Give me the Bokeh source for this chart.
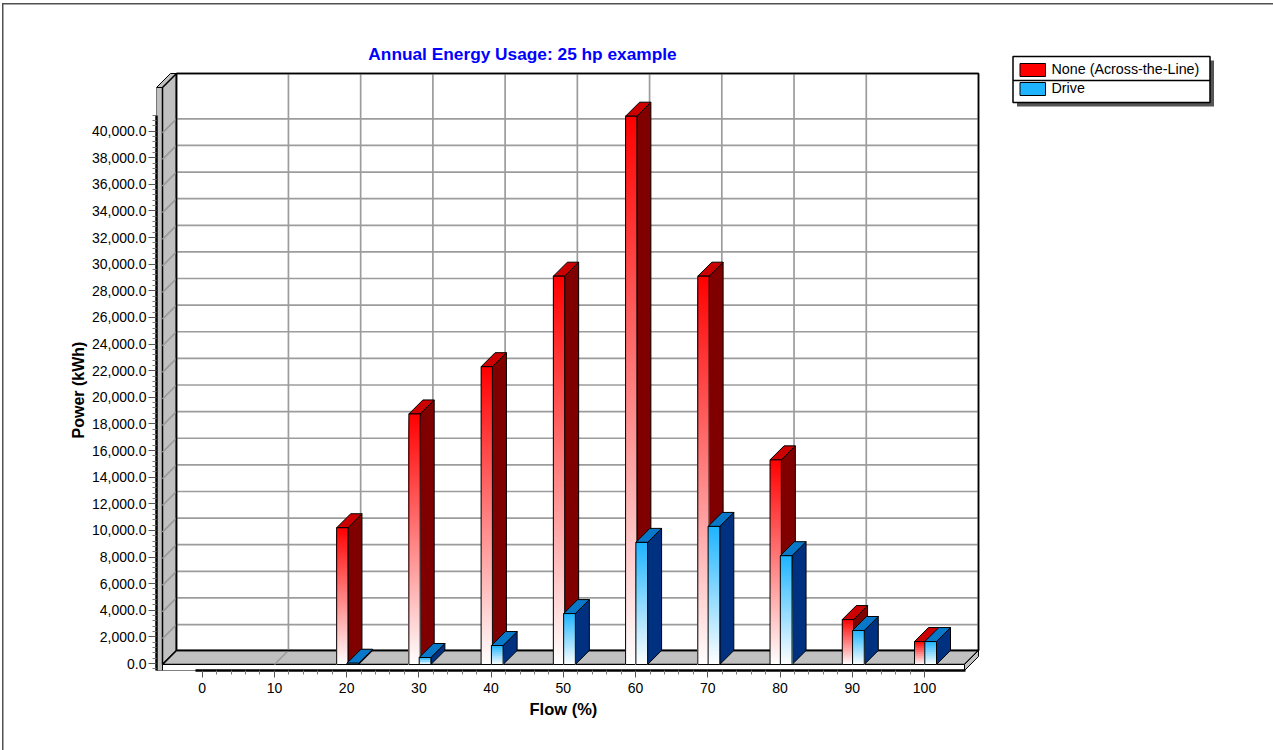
from bokeh.plotting import figure
from bokeh.embed import file_html
from bokeh.resources import INLINE
from bokeh.models import Label, FixedTicker, NumeralTickFormatter, Range1d, Title

flow = [0, 10, 20, 30, 40, 50, 60, 70, 80, 90, 100]
none_atl = [0, 0, 10200, 18750, 22300, 29100, 41120, 29100, 15300, 3300, 1650]
drive = [0, 0, 20, 450, 1350, 3750, 9100, 10300, 8100, 2480, 1650]
y_ticks = list(range(0, 40001, 2000))
x_ticks = list(range(0, 101, 10))
grid_flow = list(range(10, 91, 10))
series_name = "None (Across-the-Line)"
series_name2 = "Drive"
title_text = "Annual Energy Usage: 25 hp example"
x_title = "Flow (%)"
y_title = "Power (kWh)"

FONT = "Liberation Sans"
W, H = 1273, 750
L, T, B = 156, 0, 670   # frame edges in picture px
R = W
SX = 7.223; X0 = 201.7
SY = 0.01331; Y0 = 663.0
def px(x): return (x - X0) / SX
def py(y): return (Y0 - y) / SY
DX = 14 / SX; DY = 14 / SY
GO = 1.7 / SY   # grid sits slightly below the tick marks

p = figure(width=W, height=H, output_backend="svg", toolbar_location=None,
           x_range=Range1d(px(L), px(R)), y_range=Range1d(py(B), py(T)),
           min_border_left=L, min_border_right=0, min_border_top=0,
           min_border_bottom=H - B, outline_line_color=None,
           border_fill_alpha=0, background_fill_alpha=0)
p.grid.visible = False
# outer page rule (top and left)
p.styles = {
    "background-image": "linear-gradient(#505050,#505050),linear-gradient(#505050,#505050)",
    "background-size": "1.5px 100%,100% 1.5px",
    "background-position": "2px 3px,2px 3px",
    "background-repeat": "no-repeat",
}

GRAY = "#c0c0c0"; GL = "#9c9c9c"; K = "#000000"
floor_f = py(664); floor_t = py(670)
xl, xr = px(162), px(964)
top = py(87)

def poly(xs, ys, fill, line=K, w=1.0):
    p.patch(xs, ys, fill_color=fill, line_color=line, line_width=w)

# thin left strip + cap
poly([px(156), px(162), px(162), px(156)], [floor_t, floor_t, top, top], GRAY)
poly([px(156), px(162), px(176), px(170)], [top, top, top + DY, top + DY], GRAY)
# left wall
poly([xl, xl + DX, xl + DX, xl], [floor_f, floor_f + DY, top + DY, top], GRAY, w=1.5)
# back wall
poly([xl + DX, xr + DX, xr + DX, xl + DX], [floor_f + DY, floor_f + DY, top + DY, top + DY], "#ffffff", w=1.5)
# floor
poly([xl, xr, xr + DX, xl + DX], [floor_f, floor_f, floor_f + DY, floor_f + DY], GRAY, w=1.5)
poly([xl, xr, xr, xl], [floor_t, floor_t, floor_f, floor_f], "#ffffff")
poly([xr, xr + DX, xr + DX, xr], [floor_t, floor_t + DY, floor_f + DY, floor_f], GRAY)

# grid
for v in y_ticks[1:]:
    g = v - GO
    p.line([xl + DX, xr + DX], [g + DY, g + DY], line_color=GL, line_width=1.7)
    p.line([xl, xl + DX], [g, g + DY], line_color=GL, line_width=1.7)
for f in grid_flow:
    p.line([f + DX, f + DX], [floor_f + DY, top + DY], line_color=GL, line_width=1.7)
    p.line([f, f + DX], [floor_f, floor_f + DY], line_color=GL, line_width=1.7)
p.line([xl + DX, xl + DX], [floor_f + DY, top + DY], line_color=K, line_width=1.5)
p.line([xl + DX, xr + DX], [floor_f + DY, floor_f + DY], line_color=K, line_width=1.5)
p.line([xr + DX, xr + DX], [floor_f + DY, top + DY], line_color=K, line_width=1.5)
p.line([xl + DX, xr + DX], [top + DY, top + DY], line_color=K, line_width=1.5)

def mix(c, t):
    return "#%02x%02x%02x" % tuple(round(255 + (a - 255) * t) for a in c)

def bar(f, v, a, b, base, side, topc):
    x0, x1 = f + a / SX, f + b / SX
    poly([x1, x1 + DX, x1 + DX, x1], [floor_f, floor_f + DY, v + DY, v], side)
    poly([x0, x1, x1 + DX, x0 + DX], [v, v, v + DY, v + DY], topc)
    n = max(1, int((v - floor_f) * SY / 2))
    # painted tallest first, each overlapping the next, so no seams show
    tops = [floor_f + (v - floor_f) * i / n for i in range(n, 0, -1)]
    cols = [mix(base, (i - 0.5) / n) for i in range(n, 0, -1)]
    p.quad(left=x0, right=x1, bottom=floor_f, top=tops, line_color=None, fill_color=cols)
    p.quad(left=x0, right=x1, bottom=floor_f, top=v, fill_color=None, line_color=K, line_width=1)

for f, a, d in zip(flow, none_atl, drive):
    if a > 0:
        bar(f, a, -10.0, 1.3, (255, 0, 0), "#800000", "#cc0000")
    if d > 0:
        bar(f, d, 0.3, 12.0, (30, 180, 255), "#003080", "#0a78c8")

# axes
ax = p.xaxis[0]
ax.ticker = FixedTicker(ticks=x_ticks, minor_ticks=[i for i in range(0, 101, 2) if i % 10])
ax.bounds = (px(195), px(965))
ay = p.yaxis[0]
ay.ticker = FixedTicker(ticks=y_ticks, minor_ticks=[i for i in range(-400, 41201, 400) if i % 2000])
ay.bounds = (py(B), py(115))
ay.formatter = NumeralTickFormatter(format="0,0.0")
for a in (ax, ay):
    a.axis_line_width = 2.5
    a.major_tick_line_color = "#555555"
    a.minor_tick_line_color = "#777777"
    a.major_tick_in = 0; a.minor_tick_in = 0
    a.minor_tick_out = 4
    a.major_label_text_font = FONT
    a.major_label_text_font_size = "14px"
    a.major_label_text_color = "#000000"
ax.major_tick_out = 7
ay.major_tick_out = 8
ax.major_label_standoff = 5
ay.major_label_standoff = 2

def lab(x, y, t, size, color="#000000", bold=False, angle=0, align="center", base="middle"):
    p.add_layout(Label(x=px(x), y=py(y), text=t, text_font=FONT, text_font_size=size,
                       text_color=color, text_font_style="bold" if bold else "normal",
                       angle=angle, text_align=align, text_baseline=base))

lab(522, 53, title_text, "17.3px", "#0000ff", True)

p.add_layout(Title(text=x_title, text_font=FONT, text_font_size="16.5px", text_font_style="bold",
                   text_color="#000000", align="left", offset=529 - L, standoff=5), "below")
p.add_layout(Title(text=y_title, text_font=FONT, text_font_size="16px", text_font_style="bold",
                   text_color="#000000", align="left", offset=B - 438, standoff=5), "left")

# legend
lx0, lx1 = px(1012.5), px(1209.5)
poly([lx0 + 4 / SX, lx1 + 4 / SX, lx1 + 4 / SX, lx0 + 4 / SX],
     [py(106), py(106), py(60), py(60)], "#555555", line=None)
poly([lx0, lx1, lx1, lx0], [py(102), py(102), py(56), py(56)], "#ffffff", w=1.5)
p.line([lx0, lx1], [py(80), py(80)], line_color=K, line_width=1.5)
poly([px(1019.5), px(1045), px(1045), px(1019.5)], [py(76), py(76), py(63), py(63)], "#ff0000", w=1)
poly([px(1019.5), px(1045), px(1045), px(1019.5)], [py(95), py(95), py(82), py(82)], "#1eb4ff", w=1)
lab(1051, 68, series_name, "14.3px", align="left")
lab(1051, 87, series_name2, "14.3px", align="left")

open("out.html", "w").write(file_html(p, INLINE))
